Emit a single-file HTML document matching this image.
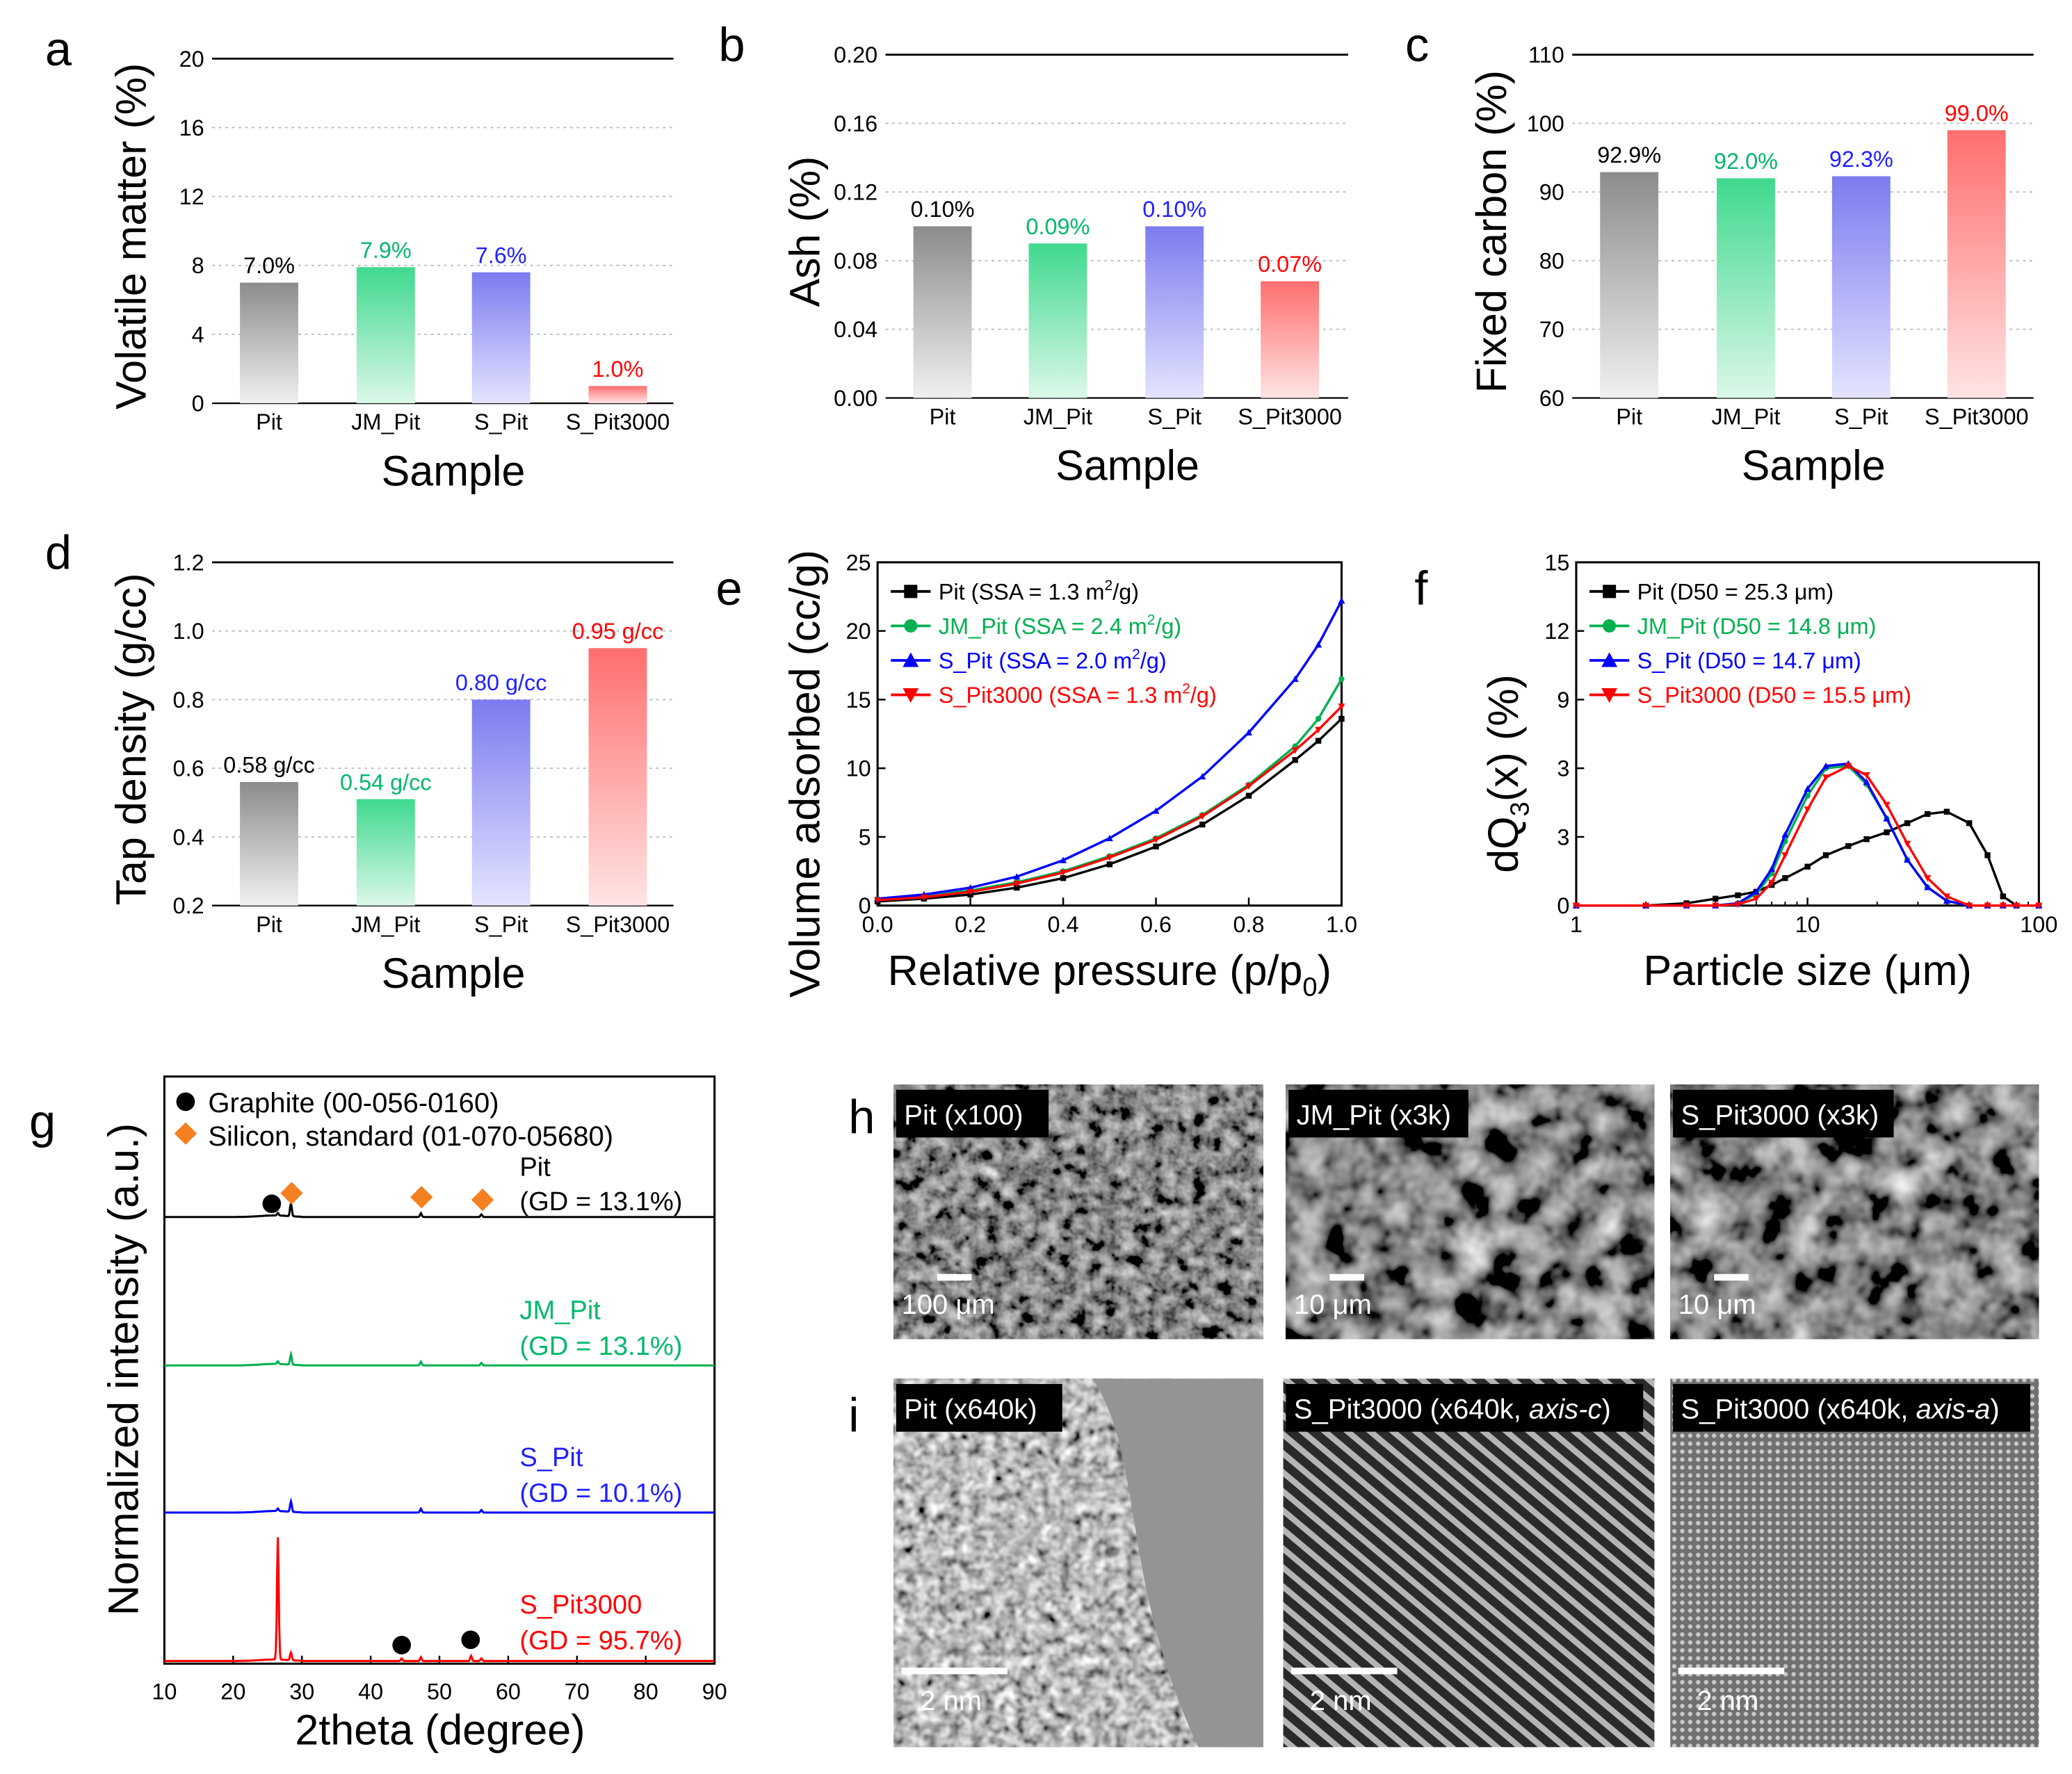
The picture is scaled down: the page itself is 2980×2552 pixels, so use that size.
<!DOCTYPE html>
<html><head><meta charset="utf-8">
<style>
html,body{margin:0;padding:0;background:#fff;}
svg{display:block;font-family:"Liberation Sans",Arial,sans-serif;}
</style></head>
<body>
<svg id="fig" width="2980" height="2552" viewBox="0 0 1563 1338" xmlns="http://www.w3.org/2000/svg">
<defs>
 <linearGradient id="gGray" x1="0" y1="0" x2="0" y2="1"><stop offset="0" stop-color="#8c8c8c"/><stop offset="1" stop-color="#f0f0f0"/></linearGradient>
 <linearGradient id="gGreen" x1="0" y1="0" x2="0" y2="1"><stop offset="0" stop-color="#3fd98e"/><stop offset="1" stop-color="#dcf8e9"/></linearGradient>
 <linearGradient id="gBlue" x1="0" y1="0" x2="0" y2="1"><stop offset="0" stop-color="#7b7bf0"/><stop offset="1" stop-color="#e4e4ff"/></linearGradient>
 <linearGradient id="gRed" x1="0" y1="0" x2="0" y2="1"><stop offset="0" stop-color="#ff6e6e"/><stop offset="1" stop-color="#ffe4e4"/></linearGradient>
 <filter id="semA" x="0" y="0" width="100%" height="100%"><feTurbulence type="fractalNoise" baseFrequency="0.09" numOctaves="3" seed="3"/><feColorMatrix type="matrix" values="0.33 0.33 0.33 0 0  0.33 0.33 0.33 0 0  0.33 0.33 0.33 0 0  0 0 0 0 1"/><feComponentTransfer><feFuncR type="linear" slope="2.0" intercept="-0.75"/><feFuncG type="linear" slope="2.0" intercept="-0.75"/><feFuncB type="linear" slope="2.0" intercept="-0.75"/></feComponentTransfer></filter>
 <filter id="semB" x="0" y="0" width="100%" height="100%"><feTurbulence type="fractalNoise" baseFrequency="0.04" numOctaves="3" seed="7"/><feColorMatrix type="matrix" values="0.33 0.33 0.33 0 0  0.33 0.33 0.33 0 0  0.33 0.33 0.33 0 0  0 0 0 0 1"/><feComponentTransfer><feFuncR type="linear" slope="2.4" intercept="-0.95"/><feFuncG type="linear" slope="2.4" intercept="-0.95"/><feFuncB type="linear" slope="2.4" intercept="-0.95"/></feComponentTransfer></filter>
 <filter id="temA" x="0" y="0" width="100%" height="100%"><feTurbulence type="fractalNoise" baseFrequency="0.12" numOctaves="2" seed="11"/><feColorMatrix type="matrix" values="0.33 0.33 0.33 0 0  0.33 0.33 0.33 0 0  0.33 0.33 0.33 0 0  0 0 0 0 1"/><feComponentTransfer><feFuncR type="linear" slope="2.4" intercept="-0.7"/><feFuncG type="linear" slope="2.4" intercept="-0.7"/><feFuncB type="linear" slope="2.4" intercept="-0.7"/></feComponentTransfer></filter>
 <pattern id="stripes" width="11" height="11" patternUnits="userSpaceOnUse" patternTransform="rotate(-50)"><rect width="11" height="11" fill="#2a2a2a"/><rect width="4.5" height="11" fill="#b5b5b5"/></pattern>
 <pattern id="dots" width="6" height="6" patternUnits="userSpaceOnUse"><rect width="6" height="6" fill="#707070"/><circle cx="3" cy="3" r="1.7" fill="#c8c8c8"/></pattern>
</defs>
<g id="root"></g>
</svg>
<script>
// ---------- data ----------
const barCats = ["Pit","JM_Pit","S_Pit","S_Pit3000"];
const volatileVals = [7.0, 7.9, 7.6, 1.0];
const volatileLabels = ["7.0%","7.9%","7.6%","1.0%"];
const ashVals = [0.10, 0.09, 0.10, 0.068];
const ashLabels = ["0.10%","0.09%","0.10%","0.07%"];
const carbonVals = [92.9, 92.0, 92.3, 99.0];
const carbonLabels = ["92.9%","92.0%","92.3%","99.0%"];
const tapVals = [0.56, 0.51, 0.80, 0.95];
const tapLabels = ["0.58 g/cc","0.54 g/cc","0.80 g/cc","0.95 g/cc"];
const ticksA = [0,4,8,12,16,20];
const ticksB = ["0.00","0.04","0.08","0.12","0.16","0.20"];
const ticksC = [60,70,80,90,100,110];
const ticksD = ["0.2","0.4","0.6","0.8","1.0","1.2"];

const pressure = [0,0.1,0.2,0.3,0.4,0.5,0.6,0.7,0.8,0.9,0.95,1.0];
const isoPit = [0.3,0.5,0.8,1.3,2.0,3.0,4.3,5.9,8.0,10.6,12.0,13.6];
const isoJM = [0.5,0.7,1.1,1.7,2.5,3.6,4.9,6.6,8.8,11.6,13.6,16.5];
const isoS = [0.5,0.8,1.3,2.1,3.3,4.9,6.9,9.4,12.6,16.5,19.0,22.2];
const isoS3000 = [0.4,0.6,1.0,1.6,2.4,3.5,4.8,6.5,8.7,11.3,12.8,14.5];
const ticksE_x = [0,0.2,0.4,0.6,0.8,1.0];
const ticksE_y = [0,5,10,15,20,25];

const psize = [1,2,3,4,5,6,7,8,10,12,15,18,22,27,33,40,50,60,70,80,100];
const psdPit = [0,0,0.1,0.3,0.45,0.6,0.9,1.2,1.7,2.2,2.6,2.9,3.2,3.6,4.0,4.1,3.6,2.2,0.4,0,0];
const psdJM = [0,0,0,0,0.1,0.5,1.4,2.8,4.8,6.0,6.1,5.3,3.8,2.0,0.8,0.2,0,0,0,0,0];
const psdS = [0,0,0,0,0.1,0.6,1.6,3.1,5.1,6.1,6.2,5.4,3.8,2.0,0.8,0.2,0,0,0,0,0];
const psdS3000 = [0,0,0,0,0.05,0.3,1.0,2.2,4.2,5.6,6.1,5.7,4.4,2.7,1.2,0.4,0,0,0,0,0];
const ticksF_x = [1,10,100];
const ticksF_y = ["0","3","3","9","12","15"];

const xrdSeries = ["Pit","JM_Pit","S_Pit","S_Pit3000"];
const xrdPeakPos = [26.5, 28.4, 44.5, 47.3, 54.6, 56.1];
const xrdPit = [0.02, 0.10, 0.0, 0.03, 0.0, 0.02];
const xrdJM = [0.02, 0.08, 0.0, 0.03, 0.0, 0.02];
const xrdS = [0.02, 0.08, 0.0, 0.03, 0.0, 0.02];
const xrdS3000 = [0.95, 0.06, 0.02, 0.03, 0.04, 0.02];
const ticksG = [10,20,30,40,50,60,70,80,90];

// ---------- helpers ----------
const NS="http://www.w3.org/2000/svg";
const root=document.getElementById('root');
function mk(tag,attrs,parent,text){const e=document.createElementNS(NS,tag);for(const k in attrs)e.setAttribute(k,attrs[k]);if(text!==undefined)e.textContent=text;(parent||root).appendChild(e);return e;}
function txt(x,y,s,size,opts,parent){opts=opts||{};const a={x:x,y:y,'font-size':size,fill:opts.fill||'#000','text-anchor':opts.anchor||'middle'};if(opts.rot)a.transform='rotate(-90 '+x+' '+y+')';if(opts.style)a['font-style']=opts.style;return mk('text',a,parent,s);}

const cols=['#000','#00b050','#0000ff','#ff0000'];
const colsLbl=['#000','#00b86b','#2020ff','#ff0000'];
const grads=['url(#gGray)','url(#gGreen)','url(#gBlue)','url(#gRed)'];

function barChart(name,x0,x1,yTop,yBot,vmin,vmax,ticks,vals,labels,letter,ytitle,centers){
  const g=mk('g',{});
  
  
  const ys=v=>yBot-(v-vmin)/(vmax-vmin)*(yBot-yTop);
  ticks.forEach((t,i)=>{const v=vmin+i*(vmax-vmin)/(ticks.length-1);const y=ys(v);
    if(i===ticks.length-1)mk('line',{x1:x0,x2:x1,y1:y,y2:y,stroke:'#000','stroke-width':1.5},g);
    else if(i>0)mk('line',{x1:x0,x2:x1,y1:y,y2:y,stroke:'#bbb','stroke-width':1,'stroke-dasharray':'2,3'},g);
    const tl=txt(x0-6,y+6,String(t),17,{anchor:'end'},g);
    
    
  });
  mk('line',{x1:x0,x2:x1,y1:yBot,y2:yBot,stroke:'#000','stroke-width':1.2},g);
  vals.forEach((v,i)=>{const c=centers[i];const y=ys(v);
    const r=mk('rect',{x:c-22,y:y,width:44,height:yBot-y,fill:grads[i]},g);
    
    
    const vl=txt(c,y-7,labels[i],17,{fill:colsLbl[i]},g);
    
    
    const cl=txt(c,yBot+20,barCats[i],17,{},g);
    
    
  });
  const xt=txt((x0+x1)/2+8,yBot+62,'Sample',32,{},g);
  
  
  const yt=txt(x0-50,(yTop+yBot)/2+4,ytitle,32,{rot:1},g);
  
  
  const pl=txt(x0-126,yTop+5,letter,36,{anchor:'start'},g);
  
  
}
barChart('volatile-chart',160,508,44,304,0,20,ticksA,volatileVals,volatileLabels,'a','Volatile matter (%)',[203,291,378,466]);
barChart('ash-chart',668,1017,41,300,0,0.2,ticksB,ashVals,ashLabels,'b','Ash (%)',[711,798,886,973]);
barChart('carbon-chart',1186,1534,41,300,60,110,ticksC,carbonVals,carbonLabels,'c','Fixed carbon (%)',[1229,1317,1404,1491]);
barChart('tap-density-chart',160,508,424,683,0.2,1.2,ticksD,tapVals,tapLabels,'d','Tap density (g/cc)',[203,291,378,466]);

function marker(g,type,x,y,c,s){
  if(type==='sq')return mk('rect',{x:x-s,y:y-s,width:2*s,height:2*s,fill:c},g);
  if(type==='ci')return mk('circle',{cx:x,cy:y,r:s,fill:c},g);
  if(type==='up')return mk('polygon',{points:`${x},${y-s*1.2} ${x-s*1.2},${y+s} ${x+s*1.2},${y+s}`,fill:c},g);
  return mk('polygon',{points:`${x},${y+s*1.2} ${x-s*1.2},${y-s} ${x+s*1.2},${y-s}`,fill:c},g);
}
const mtypes=['sq','ci','up','dn'];

function lineChart(name,x0,x1,yTop,yBot,xs,xTicks,xTickLbl,yMax,yTickLbl,series,legend,letter,ytitle,xtitle,logx){
  const g=mk('g',{});
  
  
  const sx=logx?(v=>x0+Math.log10(v)/2*(x1-x0)):(v=>x0+v*(x1-x0));
  const sy=v=>yBot-v/yMax*(yBot-yTop);
  mk('rect',{x:x0,y:yTop,width:x1-x0,height:yBot-yTop,fill:'none',stroke:'#000','stroke-width':1.6},g);
  xTicks.forEach((t,i)=>{const x=sx(t);mk('line',{x1:x,x2:x,y1:yBot,y2:yBot-6,stroke:'#000','stroke-width':1.3},g);
    const l=txt(x,yBot+20,xTickLbl[i],17,{},g);});
  if(logx){[2,3,4,5,6,7,8,9,20,30,40,50,60,70,80,90].forEach(t=>{const x=sx(t);mk('line',{x1:x,x2:x,y1:yBot,y2:yBot-3,stroke:'#000'},g);});}
  yTickLbl.forEach((t,i)=>{const y=sy(i*yMax/(yTickLbl.length-1));mk('line',{x1:x0,x2:x0+6,y1:y,y2:y,stroke:'#000','stroke-width':1.3},g);
    const l=txt(x0-5,y+6,t,17,{anchor:'end'},g);});
  series.forEach((s,k)=>{
    const pts=s.map((v,i)=>sx(xs[i]).toFixed(1)+','+sy(v).toFixed(1)).join(' ');
    const p=mk('polyline',{points:pts,fill:'none',stroke:cols[k],'stroke-width':1.8},g);
    
    
    s.forEach((v,i)=>{marker(g,mtypes[k],sx(xs[i]),sy(v),cols[k],2.2);});
  });
  legend.forEach((l,k)=>{const y=yTop+22+k*26;
    mk('line',{x1:x0+10,x2:x0+40,y1:y,y2:y,stroke:cols[k],'stroke-width':2},g);
    marker(g,mtypes[k],x0+25,y,cols[k],5);
    const t=mk('text',{x:x0+46,y:y+6,'font-size':17,fill:cols[k]},g);
    
    
    t.innerHTML=l;
  });
  const xt=mk('text',{x:(x0+x1)/2,y:yBot+60,'font-size':32,'text-anchor':'middle'},g);
  xt.innerHTML=xtitle;
  
  
  const cy=(yTop+yBot)/2+30;
  const yt=mk('text',{x:x0-44,y:cy,'font-size':32,'text-anchor':'middle',transform:'rotate(-90 '+(x0-44)+' '+cy+')'},g);
  yt.innerHTML=ytitle;
  
  
  const pl=txt(x0-122,yTop+32,letter,36,{anchor:'start'},g);
  
  
}
lineChart('isotherm-chart',662,1012,424,683,pressure,ticksE_x,ticksE_x.map(v=>v.toFixed(1)),25,ticksE_y.map(String),
  [isoPit,isoJM,isoS,isoS3000],
  ['Pit (SSA = 1.3 m<tspan font-size="11" dy="-7">2</tspan><tspan dy="7">/g)</tspan>','JM_Pit (SSA = 2.4 m<tspan font-size="11" dy="-7">2</tspan><tspan dy="7">/g)</tspan>','S_Pit (SSA = 2.0 m<tspan font-size="11" dy="-7">2</tspan><tspan dy="7">/g)</tspan>','S_Pit3000 (SSA = 1.3 m<tspan font-size="11" dy="-7">2</tspan><tspan dy="7">/g)</tspan>'],
  'e','Volume adsorbed (cc/g)','Relative pressure (p/p<tspan font-size="20" dy="8">0</tspan><tspan dy="-8">)</tspan>',false);
lineChart('psd-chart',1189,1538,424,683,psize,ticksF_x,ticksF_x.map(String),15,ticksF_y,
  [psdPit,psdJM,psdS,psdS3000],
  ['Pit (D50 = 25.3 μm)','JM_Pit (D50 = 14.8 μm)','S_Pit (D50 = 14.7 μm)','S_Pit3000 (D50 = 15.5 μm)'],
  'f','dQ<tspan font-size="20" dy="8">3</tspan><tspan dy="-8">(x) (%)</tspan>','Particle size (μm)',true);

// ---------- XRD ----------
(function(){
  const g=mk('g',{});
  
  
  const x0=124,x1=539,yT=812,yB=1255;
  const sx=v=>x0+(v-10)/80*(x1-x0);
  mk('rect',{x:x0,y:yT,width:x1-x0,height:yB-yT,fill:'none',stroke:'#000','stroke-width':1.6},g);
  ticksG.forEach(t=>{const x=sx(t);mk('line',{x1:x,x2:x,y1:yB,y2:yB-6,stroke:'#000','stroke-width':1.3},g);
    const l=txt(x,yB+27,String(t),17,{},g);});
  const bases=[918,1030,1141,1253];
  const heights=[xrdPit,xrdJM,xrdS,xrdS3000];
  const scale=97;
  heights.forEach((hs,k)=>{
    let pts=[];
    for(let t=10;t<=90;t+=0.1){
      let v=0;
      hs.forEach((h,j)=>{const d=(t-xrdPeakPos[j])/0.18;v+=h*Math.exp(-d*d);});
      const q=(t-26)/3;
      v+= (t>20&&t<30)?0.012*Math.exp(-q*q):0;
      pts.push(sx(t).toFixed(1)+','+(bases[k]-v*scale).toFixed(1));
    }
    const p=mk('polyline',{points:pts.join(' '),fill:'none',stroke:cols[k],'stroke-width':1.6},g);
    
    
  });
  const lbl=[["Pit","(GD = 13.1%)",880,906],["JM_Pit","(GD = 13.1%)",988,1015],["S_Pit","(GD = 10.1%)",1099,1126],["S_Pit3000","(GD = 95.7%)",1210,1237]];
  lbl.forEach((l,k)=>{const a=txt(392,l[2]+7,l[0],20,{anchor:'start',fill:k===0?'#000':colsLbl[k]},g);const b=txt(392,l[3]+7,l[1],20,{anchor:'start',fill:k===0?'#000':colsLbl[k]},g);
    
    });
  mk('circle',{cx:140,cy:831,r:7,fill:'#000'},g);
  txt(157,839,'Graphite (00-056-0160)',21,{anchor:'start'},g);
  mk('rect',{x:134,y:849,width:12,height:12,fill:'#f58021',transform:'rotate(45 140 855)'},g);
  txt(157,864,'Silicon, standard (01-070-05680)',21,{anchor:'start'},g);
  [[205,908],[303,1241],[355,1237]].forEach(p=>mk('circle',{cx:p[0],cy:p[1],r:7,fill:'#000'},g));
  [[220,900],[318,903],[364,905]].forEach(p=>mk('rect',{x:p[0]-6,y:p[1]-6,width:12,height:12,fill:'#f58021',transform:'rotate(45 '+p[0]+' '+p[1]+')'},g));
  const xt=txt(332,1316,'2theta (degree)',32,{},g);
  const yt=txt(104,1033,'Normalized intensity (a.u.)',32,{rot:1},g);
  const pl=txt(22,858,'g',36,{anchor:'start'},g);
})();

// ---------- micrographs ----------
(function(){
  const g=mk('g',{});
  
  
  const imgs=[
    [674,818,279,192,'semA','Pit (x100)','100 μm',null],
    [970,818,278,192,'semB','JM_Pit (x3k)','10 μm',null],
    [1260,818,278,192,'semB','S_Pit3000 (x3k)','10 μm',null],
    [674,1040,279,278,'temA','Pit (x640k)','2 nm',null],
    [968,1040,280,278,null,'S_Pit3000 (x640k, <tspan font-style="italic">axis-c</tspan>)','2 nm','url(#stripes)'],
    [1260,1040,278,278,null,'S_Pit3000 (x640k, <tspan font-style="italic">axis-a</tspan>)','2 nm','url(#dots)']];
  imgs.forEach((m,i)=>{
    const sub=mk('g',{},g);
    
    
    if(m[4])mk('rect',{x:m[0],y:m[1],width:m[2],height:m[3],filter:'url(#'+m[4]+')'},sub);
    else mk('rect',{x:m[0],y:m[1],width:m[2],height:m[3],fill:m[7]},sub);
    if(i===3)mk('path',{d:'M'+(m[0]+150)+','+m[1]+' C'+(m[0]+190)+','+(m[1]+60)+' '+(m[0]+170)+','+(m[1]+150)+' '+(m[0]+230)+','+(m[1]+278)+' L'+(m[0]+279)+','+(m[1]+278)+' L'+(m[0]+279)+','+m[1]+' Z',fill:'#949494'},sub);
    const w=m[5].replace(/<[^>]+>/g,'').length*10.3+12;
    mk('rect',{x:m[0]+2,y:m[1]+4,width:Math.min(w,m[2]-4),height:36,fill:'#000'},sub);
    const t=mk('text',{x:m[0]+8,y:m[1]+30,'font-size':21,fill:'#fff'},sub);t.innerHTML=m[5];
    
    if(m[3]<200){mk('rect',{x:m[0]+33,y:m[1]+143,width:26,height:5,fill:'#fff'},sub);
      txt(m[0]+6,m[1]+173,m[6],21,{anchor:'start',fill:'#fff'},sub);}
    else{mk('rect',{x:m[0]+6,y:m[1]+218,width:80,height:5,fill:'#fff'},sub);
      txt(m[0]+20,m[1]+250,m[6],21,{anchor:'start',fill:'#fff'},sub);}
  });
  txt(640,855,'h',36,{anchor:'start'},g);
  txt(640,1080,'i',36,{anchor:'start'},g);
})();
</script>
</body></html>
